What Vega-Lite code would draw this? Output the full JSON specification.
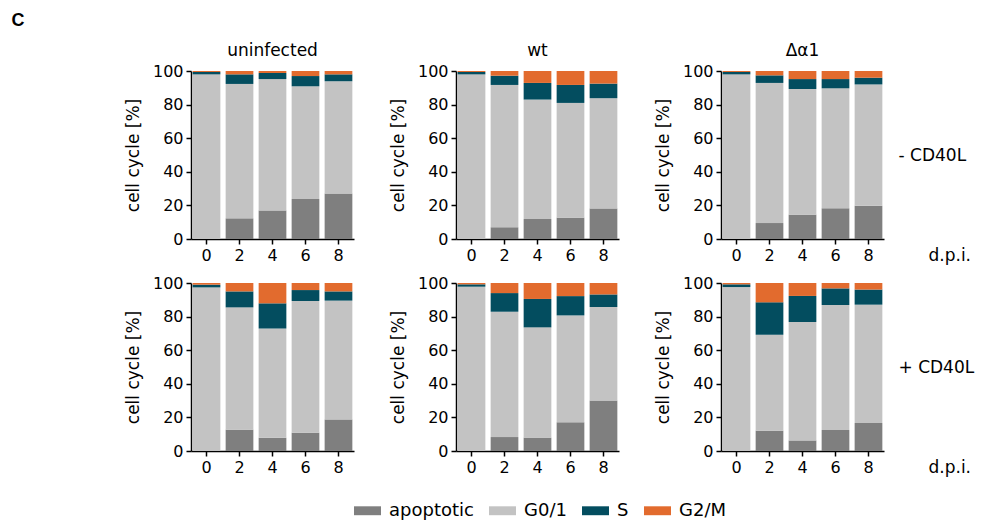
{
  "$schema": "https://vega.github.io/schema/vega-lite/v6.json",
  "padding": {"left": 11, "top": 12, "right": 5, "bottom": 5},
  "title": {"text": "C", "anchor": "start", "frame": "bounds", "dx": -113, "offset": 12, "fontSize": 18, "fontWeight": "bold", "font": "Liberation Sans", "color": "black"},
  "data": {"values": [
    {"strain": "uninfected", "cond": "-", "dpi": 0, "apoptotic": 0, "G0/1": 98, "S": 1.4, "G2/M": 0.6},
    {"strain": "uninfected", "cond": "-", "dpi": 2, "apoptotic": 12.3, "G0/1": 80, "S": 5.7, "G2/M": 2},
    {"strain": "uninfected", "cond": "-", "dpi": 4, "apoptotic": 17, "G0/1": 78.2, "S": 3.6, "G2/M": 1.2},
    {"strain": "uninfected", "cond": "-", "dpi": 6, "apoptotic": 23.8, "G0/1": 67.1, "S": 6.1, "G2/M": 3},
    {"strain": "uninfected", "cond": "-", "dpi": 8, "apoptotic": 27.1, "G0/1": 66.8, "S": 4.1, "G2/M": 2},
    {"strain": "wt", "cond": "-", "dpi": 0, "apoptotic": 0, "G0/1": 98, "S": 1.4, "G2/M": 0.6},
    {"strain": "wt", "cond": "-", "dpi": 2, "apoptotic": 7, "G0/1": 84.7, "S": 5.5, "G2/M": 2.8},
    {"strain": "wt", "cond": "-", "dpi": 4, "apoptotic": 11.9, "G0/1": 71.1, "S": 9.9, "G2/M": 7.1},
    {"strain": "wt", "cond": "-", "dpi": 6, "apoptotic": 12.7, "G0/1": 68.3, "S": 10.7, "G2/M": 8.3},
    {"strain": "wt", "cond": "-", "dpi": 8, "apoptotic": 18.2, "G0/1": 65.6, "S": 8.7, "G2/M": 7.5},
    {"strain": "da1", "cond": "-", "dpi": 0, "apoptotic": 0, "G0/1": 98, "S": 1.4, "G2/M": 0.6},
    {"strain": "da1", "cond": "-", "dpi": 2, "apoptotic": 9.5, "G0/1": 83.4, "S": 4.5, "G2/M": 2.6},
    {"strain": "da1", "cond": "-", "dpi": 4, "apoptotic": 14.5, "G0/1": 74.8, "S": 5.9, "G2/M": 4.8},
    {"strain": "da1", "cond": "-", "dpi": 6, "apoptotic": 18.3, "G0/1": 71.4, "S": 5.5, "G2/M": 4.8},
    {"strain": "da1", "cond": "-", "dpi": 8, "apoptotic": 19.8, "G0/1": 72.2, "S": 4, "G2/M": 4},
    {"strain": "uninfected", "cond": "+", "dpi": 0, "apoptotic": 0, "G0/1": 97.4, "S": 1.6, "G2/M": 1},
    {"strain": "uninfected", "cond": "+", "dpi": 2, "apoptotic": 12.7, "G0/1": 72.8, "S": 9.5, "G2/M": 5},
    {"strain": "uninfected", "cond": "+", "dpi": 4, "apoptotic": 7.9, "G0/1": 65, "S": 15, "G2/M": 12.1},
    {"strain": "uninfected", "cond": "+", "dpi": 6, "apoptotic": 10.9, "G0/1": 78.4, "S": 6.5, "G2/M": 4.2},
    {"strain": "uninfected", "cond": "+", "dpi": 8, "apoptotic": 18.8, "G0/1": 70.7, "S": 5.5, "G2/M": 5},
    {"strain": "wt", "cond": "+", "dpi": 0, "apoptotic": 0, "G0/1": 97.8, "S": 1.4, "G2/M": 0.8},
    {"strain": "wt", "cond": "+", "dpi": 2, "apoptotic": 8.3, "G0/1": 74.6, "S": 11.1, "G2/M": 6},
    {"strain": "wt", "cond": "+", "dpi": 4, "apoptotic": 8, "G0/1": 65.6, "S": 16.9, "G2/M": 9.5},
    {"strain": "wt", "cond": "+", "dpi": 6, "apoptotic": 17.1, "G0/1": 63.6, "S": 11.5, "G2/M": 7.8},
    {"strain": "wt", "cond": "+", "dpi": 8, "apoptotic": 30, "G0/1": 55.7, "S": 7.5, "G2/M": 6.8},
    {"strain": "da1", "cond": "+", "dpi": 0, "apoptotic": 0, "G0/1": 97.6, "S": 1.6, "G2/M": 0.8},
    {"strain": "da1", "cond": "+", "dpi": 2, "apoptotic": 12.1, "G0/1": 57.1, "S": 19.3, "G2/M": 11.5},
    {"strain": "da1", "cond": "+", "dpi": 4, "apoptotic": 6.3, "G0/1": 70.5, "S": 15.5, "G2/M": 7.7},
    {"strain": "da1", "cond": "+", "dpi": 6, "apoptotic": 12.5, "G0/1": 74.4, "S": 9.9, "G2/M": 3.2},
    {"strain": "da1", "cond": "+", "dpi": 8, "apoptotic": 16.7, "G0/1": 70.4, "S": 9, "G2/M": 3.9}
  ]},
  "transform": [
    {"fold": ["apoptotic", "G0/1", "S", "G2/M"], "as": ["phase", "pct"]},
    {"calculate": "indexof(['apoptotic', 'G0/1', 'S', 'G2/M'], datum.phase)", "as": "stackorder"}
  ],
  "spacing": 12,
  "vconcat": [
    {
      "spacing": 35,
      "hconcat": [
        {
          "title": {"text": "uninfected"},
          "width": 163, "height": 168,
          "transform": [{"filter": "datum.strain === 'uninfected' && datum.cond === '-'"}],
          "mark": "bar",
          "encoding": {
            "x": {"field": "dpi", "type": "ordinal", "axis": {"title": null}},
            "y": {"field": "pct", "type": "quantitative", "stack": "zero", "scale": {"domain": [0, 100]}, "axis": {"title": "cell cycle [%]"}},
            "color": {"field": "phase", "type": "nominal", "sort": ["apoptotic", "G0/1", "S", "G2/M"]},
            "order": {"field": "stackorder", "type": "quantitative"}
          }
        },
        {
          "title": {"text": "wt"},
          "width": 163, "height": 168,
          "transform": [{"filter": "datum.strain === 'wt' && datum.cond === '-'"}],
          "mark": "bar",
          "encoding": {
            "x": {"field": "dpi", "type": "ordinal", "axis": {"title": null}},
            "y": {"field": "pct", "type": "quantitative", "stack": "zero", "scale": {"domain": [0, 100]}, "axis": {"title": "cell cycle [%]"}},
            "color": {"field": "phase", "type": "nominal", "sort": ["apoptotic", "G0/1", "S", "G2/M"]},
            "order": {"field": "stackorder", "type": "quantitative"}
          }
        },
        {
          "title": {"text": "Δα1"},
          "width": 163, "height": 168,
          "transform": [{"filter": "datum.strain === 'da1' && datum.cond === '-'"}],
          "layer": [
            {
              "mark": "bar",
              "encoding": {
                "x": {"field": "dpi", "type": "ordinal", "axis": {"title": "d.p.i.", "titleX": 207, "titleY": 16, "titleAlign": "left", "titleBaseline": "middle"}},
                "y": {"field": "pct", "type": "quantitative", "stack": "zero", "scale": {"domain": [0, 100]}, "axis": {"title": "cell cycle [%]"}},
                "color": {"field": "phase", "type": "nominal", "sort": ["apoptotic", "G0/1", "S", "G2/M"]},
                "order": {"field": "stackorder", "type": "quantitative"}
              }
            },
            {
              "mark": {"type": "tick", "opacity": 0},
              "encoding": {
                "y": {"field": "pct", "type": "quantitative", "scale": {"domain": [0, 100]}, "axis": {"orient": "right", "title": "- CD40L", "titleAngle": 0, "titleAlign": "left", "titleBaseline": "middle", "titlePadding": 14, "labels": false, "ticks": false, "domain": false}}
              }
            }
          ],
          "resolve": {"scale": {"y": "independent"}}
        }
      ]
    },
    {
      "spacing": 35,
      "hconcat": [
        {
          "width": 163, "height": 168,
          "transform": [{"filter": "datum.strain === 'uninfected' && datum.cond === '+'"}],
          "mark": "bar",
          "encoding": {
            "x": {"field": "dpi", "type": "ordinal", "axis": {"title": null}},
            "y": {"field": "pct", "type": "quantitative", "stack": "zero", "scale": {"domain": [0, 100]}, "axis": {"title": "cell cycle [%]"}},
            "color": {"field": "phase", "type": "nominal", "sort": ["apoptotic", "G0/1", "S", "G2/M"]},
            "order": {"field": "stackorder", "type": "quantitative"}
          }
        },
        {
          "width": 163, "height": 168,
          "transform": [{"filter": "datum.strain === 'wt' && datum.cond === '+'"}],
          "mark": "bar",
          "encoding": {
            "x": {"field": "dpi", "type": "ordinal", "axis": {"title": null}},
            "y": {"field": "pct", "type": "quantitative", "stack": "zero", "scale": {"domain": [0, 100]}, "axis": {"title": "cell cycle [%]"}},
            "color": {"field": "phase", "type": "nominal", "sort": ["apoptotic", "G0/1", "S", "G2/M"]},
            "order": {"field": "stackorder", "type": "quantitative"}
          }
        },
        {
          "width": 163, "height": 168,
          "transform": [{"filter": "datum.strain === 'da1' && datum.cond === '+'"}],
          "layer": [
            {
              "mark": "bar",
              "encoding": {
                "x": {"field": "dpi", "type": "ordinal", "axis": {"title": "d.p.i.", "titleX": 207, "titleY": 16, "titleAlign": "left", "titleBaseline": "middle"}},
                "y": {"field": "pct", "type": "quantitative", "stack": "zero", "scale": {"domain": [0, 100]}, "axis": {"title": "cell cycle [%]"}},
                "color": {"field": "phase", "type": "nominal", "sort": ["apoptotic", "G0/1", "S", "G2/M"]},
                "order": {"field": "stackorder", "type": "quantitative"}
              }
            },
            {
              "mark": {"type": "tick", "opacity": 0},
              "encoding": {
                "y": {"field": "pct", "type": "quantitative", "scale": {"domain": [0, 100]}, "axis": {"orient": "right", "title": "+ CD40L", "titleAngle": 0, "titleAlign": "left", "titleBaseline": "middle", "titlePadding": 14, "labels": false, "ticks": false, "domain": false}}
              }
            }
          ],
          "resolve": {"scale": {"y": "independent"}}
        }
      ]
    }
  ],
  "resolve": {"scale": {"color": "shared"}},
  "config": {
    "font": "DejaVu Sans",
    "view": {"stroke": null},
    "bar": {"stroke": null},
    "scale": {"bandPaddingInner": 0.16, "bandPaddingOuter": 0.05},
    "range": {"category": ["#7f7f7f", "#c3c3c3", "#034d5f", "#e26b2e"]},
    "title": {"fontSize": 17, "fontWeight": "normal", "frame": "group", "offset": 3, "color": "black", "font": "DejaVu Sans"},
    "axis": {"grid": false, "domainColor": "black", "domainWidth": 1.5, "tickColor": "black", "tickWidth": 1.5, "tickSize": 5, "labelColor": "black", "labelFontSize": 16, "labelPadding": 3, "titleColor": "black", "titleFontSize": 17, "titleFontWeight": "normal", "titlePadding": 10},
    "axisX": {"labelAngle": 0},
    "axisY": {"values": [0, 20, 40, 60, 80, 100]},
    "legend": {"orient": "none", "direction": "horizontal", "legendX": 163, "legendY": 426, "title": null, "labelFontSize": 18, "labelColor": "black", "symbolType": "M-1,-0.33H1V0.33H-1Z", "symbolSize": 729, "symbolStrokeWidth": 0, "symbolOpacity": 1, "labelOffset": 8, "columnPadding": 15}
  }
}
